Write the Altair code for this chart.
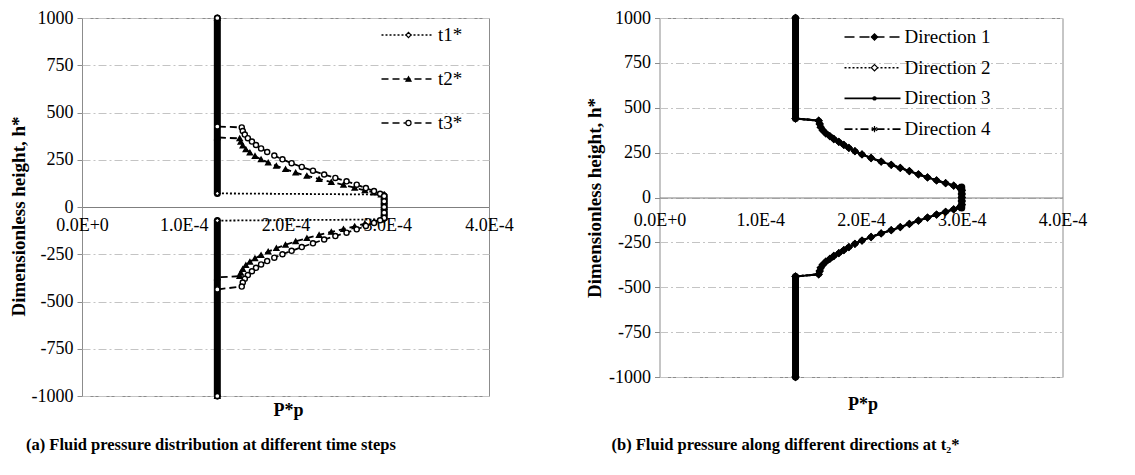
import altair as alt
import pandas as pd

FONT = "Liberation Serif"
P_UNIT = 1e-4  # pressures below are written in units of 1e-4

# ---------------- Panel (a): different time steps ----------------
a_series = ["t1*", "t2*", "t3*"]

t1_p = [1.33, 1.33, 2.97, 2.97, 1.33, 1.33]
t1_h = [1000, 72, 66, -66, -72, -1000]

t2_p = [1.33, 1.33, 1.55, 1.56, 1.58, 1.61, 1.65, 1.70, 1.76, 1.83, 1.91, 2.00, 2.10, 2.21,
        2.33, 2.45, 2.57, 2.68, 2.78, 2.87, 2.94,
        2.97, 2.97, 2.97, 2.97, 2.97,
        2.94, 2.87, 2.78, 2.68, 2.57, 2.45, 2.33, 2.21, 2.10, 2.00, 1.91, 1.83, 1.76,
        1.70, 1.65, 1.61, 1.58, 1.56, 1.55, 1.33, 1.33]
t2_h = [1000, 368, 363, 345, 325, 305, 288, 270, 252, 235, 218, 200, 182, 165,
        148, 132, 117, 102, 88, 76, 66,
        55, 30, 0, -30, -55,
        -66, -76, -88, -102, -117, -132, -148, -165, -182, -200, -218, -236, -254,
        -272, -290, -308, -328, -348, -366, -372, -1000]

t3_p = [1.33, 1.33, 1.57, 1.58, 1.60, 1.63, 1.67, 1.71, 1.76, 1.82, 1.89, 1.97, 2.06, 2.16,
        2.27, 2.38, 2.49, 2.60, 2.70, 2.79, 2.87, 2.93,
        2.97, 2.97, 2.97, 2.97, 2.97,
        2.93, 2.87, 2.79, 2.70, 2.60, 2.49, 2.38, 2.27, 2.16, 2.06, 1.97, 1.89, 1.82,
        1.76, 1.71, 1.67, 1.63, 1.60, 1.58, 1.57, 1.33, 1.33]
t3_h = [1000, 426, 421, 402, 383, 364, 346, 328, 310, 291, 272, 252, 232, 212,
        192, 172, 154, 136, 118, 100, 84, 70,
        58, 30, 0, -30, -58,
        -70, -84, -100, -118, -136, -154, -172, -192, -212, -232, -250, -268, -286,
        -304, -322, -340, -360, -380, -400, -421, -436, -1000]

# densely packed marker strips (far field and peak plateau)
a_strip_p = [1.33, 1.33, 1.33, 1.33, 2.97, 2.97]
a_strip_h = [1000, 72, -72, -1000, 56, -56]
a_strip_seg = ["upper", "upper", "lower", "lower", "peak", "peak"]

# ---------------- Panel (b): different directions at t2* ----------------
b_series = ["Direction 1", "Direction 2", "Direction 3", "Direction 4"]

dir_p = [1.35, 1.35, 1.58, 1.59, 1.60, 1.62, 1.65, 1.69, 1.73, 1.78, 1.83, 1.88, 1.94, 2.01,
         2.10, 2.20, 2.30, 2.39, 2.48, 2.57, 2.66, 2.75, 2.84, 2.92, 2.98,
         3.00, 3.00, 3.00, 3.00, 3.00,
         2.98, 2.92, 2.84, 2.75, 2.66, 2.57, 2.48, 2.39, 2.30, 2.20, 2.10, 2.01, 1.94,
         1.88, 1.83, 1.78, 1.73, 1.69, 1.65, 1.62, 1.60, 1.59, 1.58, 1.35, 1.35]
dir_h = [1000, 440, 428, 410, 392, 375, 358, 342, 326, 310, 293, 276, 258, 240,
         220, 200, 182, 165, 147, 129, 112, 95, 80, 66, 54,
         40, 20, 0, -20, -40,
         -54, -66, -80, -95, -112, -129, -147, -165, -182, -200, -220, -240, -258,
         -276, -293, -310, -326, -342, -358, -375, -392, -410, -428, -440, -1000]

b_strip_p = [1.35, 1.35, 1.35, 1.35, 3.00, 3.00]
b_strip_h = [1000, 440, -440, -1000, 58, -58]
b_strip_seg = ["upper", "upper", "lower", "lower", "peak", "peak"]

x_ticks = [0, 1e-4, 2e-4, 3e-4, 4e-4]
y_ticks = [-1000, -750, -500, -250, 0, 250, 500, 750, 1000]


def series_frame(name, p, h):
    return pd.DataFrame({
        "series": name, "dash_key": name,
        "p": [v * P_UNIT for v in p], "h": h, "idx": list(range(len(p))),
    })


def strip_frame(p, h, seg):
    return pd.DataFrame({"p": [v * P_UNIT for v in p], "h": h, "seg": seg})


a_df = pd.concat([series_frame("t1*", t1_p, t1_h),
                  series_frame("t2*", t2_p, t2_h),
                  series_frame("t3*", t3_p, t3_h)], ignore_index=True)
a_strip = strip_frame(a_strip_p, a_strip_h, a_strip_seg)

b_df = pd.concat([series_frame(name, dir_p, dir_h) for name in reversed(b_series)],
                 ignore_index=True)
b_strip = strip_frame(b_strip_p, b_strip_h, b_strip_seg)

XS = alt.Scale(domain=[0, 4e-4], nice=False, zero=False)
YS = alt.Scale(domain=[-1000, 1000], nice=False, zero=False)


def build_panel(df, strip, series, dashes, shapes, fills, W, H, *, point_size, line_w,
                leg_x, leg_y, row_pad, leg_path, label_off, ytitle_x, ytitle_dy,
                xtitle_x, xtitle_y, label_pad, caption, cap_dx, cap_off):
    x_axis = alt.Axis(values=x_ticks, offset=-H / 2, ticks=False, grid=False,
                      domainColor="#7f7f7f", domainWidth=1,
                      labelExpr="replace(upper(format(datum.value, '.1e')), '\u2212', '-')",
                      labelFont=FONT, labelFontSize=18, labelColor="black",
                      labelPadding=label_pad, labelFlush=False, labelOverlap=False,
                      title="P*p", titleFont=FONT, titleFontSize=18, titleFontWeight="bold",
                      titleColor="black", titleX=xtitle_x, titleY=xtitle_y,
                      titleBaseline="middle", titleAlign="center")
    y_axis = alt.Axis(values=y_ticks, grid=True, gridDash=[8, 3, 2, 3], gridColor="#c4c4c4",
                      gridWidth=1, domain=False, tickColor="#8c8c8c", tickSize=5,
                      labelExpr="'' + datum.value",
                      labelFont=FONT, labelFontSize=18, labelColor="black", labelPadding=4,
                      title="Dimensionless height, h*", titleFont=FONT, titleFontSize=19,
                      titleFontWeight="bold", titleColor="black", titleX=ytitle_x,
                      titleY=H / 2 + ytitle_dy, titleBaseline="middle", titleAlign="center",
                      titleAngle=270)
    X = alt.X("p:Q", scale=XS, axis=x_axis)
    Y = alt.Y("h:Q", scale=YS, axis=y_axis)

    strips = alt.Chart(strip).mark_line(color="black", strokeWidth=7, strokeCap="round").encode(
        x=X, y=Y, detail="seg:N",
    )

    line_legend = alt.Legend(orient="none", legendX=leg_x, legendY=leg_y, title=None,
                             symbolType=leg_path, symbolSize=64, symbolStrokeWidth=1.6,
                             symbolStrokeColor="black", symbolFillColor="transparent",
                             labelOffset=label_off, labelFont=FONT, labelFontSize=19,
                             labelColor="black", rowPadding=row_pad, padding=0)
    lines = alt.Chart(df).mark_line(color="black", strokeWidth=line_w).encode(
        x=X, y=Y,
        strokeDash=alt.StrokeDash("dash_key:N", scale=alt.Scale(range=dashes),
                                  legend=line_legend),
        order="idx:Q",
    )

    shape_legend = alt.Legend(orient="none", legendX=leg_x + 2, legendY=leg_y, title=None,
                              labelExpr="''", labelOpacity=0, labelFont=FONT,
                              labelFontSize=19, rowPadding=row_pad, padding=0,
                              symbolStrokeColor="black", symbolStrokeWidth=1.2,
                              symbolSize=point_size)
    black = ["black"] * len(series)
    points = alt.Chart(df).mark_point(stroke="black", strokeWidth=1.4, opacity=1,
                                      size=point_size).encode(
        x=X, y=Y,
        shape=alt.Shape("series:N", scale=alt.Scale(domain=series, range=shapes),
                        legend=shape_legend),
        fill=alt.Fill("series:N", scale=alt.Scale(domain=series, range=fills),
                      legend=shape_legend),
        stroke=alt.Stroke("series:N", scale=alt.Scale(domain=series, range=black),
                          legend=shape_legend),
    )

    return alt.layer(strips, lines, points).properties(
        width=W, height=H,
        title=alt.TitleParams(caption, orient="bottom", anchor="start", frame="group",
                              dx=cap_dx, offset=cap_off, font=FONT,
                              fontSize=16.5, fontWeight="bold", color="black"),
    )


left = build_panel(
    a_df, a_strip, a_series,
    dashes=[[2, 2], [7, 4], [7, 4]],
    shapes=["diamond", "triangle-up", "circle"],
    fills=["white", "black", "white"],
    W=407, H=378, point_size=26, line_w=1.8,
    leg_x=315, leg_y=7.5, row_pad=24, leg_path="M-6.25,0H6.25", label_off=22,
    ytitle_x=-64, ytitle_dy=9, xtitle_x=206, xtitle_y=203, label_pad=9,
    caption="(a) Fluid pressure distribution at different time steps",
    cap_dx=-56, cap_off=18,
)

right = build_panel(
    b_df, b_strip, b_series,
    dashes=[[10, 5], [2, 2], [1, 0], [8, 3, 2, 3]],
    shapes=["diamond", "diamond",
            "M-0.5,0A0.5,0.5 0 1,0 0.5,0A0.5,0.5 0 1,0 -0.5,0Z",
            "M0,-1L0,1M-0.87,-0.5L0.87,0.5M-0.87,0.5L0.87,-0.5"],
    fills=["black", "white", "black", "black"],
    W=403, H=359, point_size=40, line_w=2,
    leg_x=203.5, leg_y=9.5, row_pad=10.7, leg_path="M-7,0H7", label_off=22.5,
    ytitle_x=-65, ytitle_dy=0, xtitle_x=203, xtitle_y=207, label_pad=14,
    caption="(b) Fluid pressure along different directions at t\u2082*",
    cap_dx=-48, cap_off=23,
)

chart = alt.hconcat(left, right, spacing=70.5).resolve_scale(
    x="independent", y="independent", strokeDash="independent",
    shape="independent", fill="independent", stroke="independent",
).resolve_legend(
    strokeDash="independent", shape="independent", fill="independent",
    stroke="independent",
).configure(
    padding={"left": 8, "top": 3, "right": 0, "bottom": 0},
    font=FONT,
).configure_view(stroke="#8c8c8c", strokeWidth=1)

chart.save("out.html", embed_options={"renderer": "svg", "actions": False})
